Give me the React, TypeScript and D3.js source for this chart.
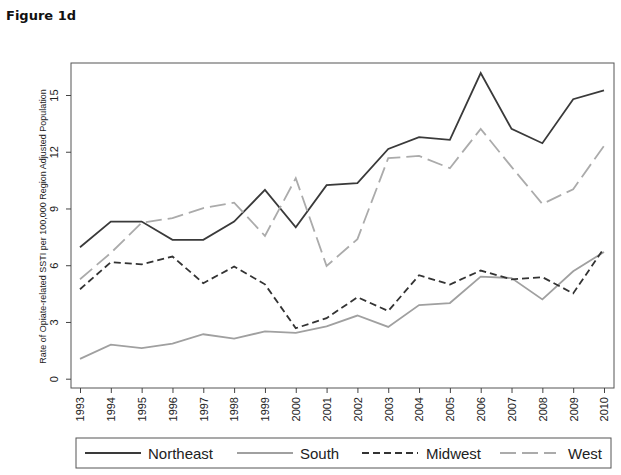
import React, { useEffect, useRef } from 'react';
import * as d3 from 'd3';

const years = [1993, 1994, 1995, 1996, 1997, 1998, 1999, 2000, 2001, 2002, 2003, 2004, 2005, 2006, 2007, 2008, 2009, 2010];
const northeast = [6.95, 8.31, 8.31, 7.34, 7.34, 8.31, 9.98, 8.01, 10.23, 10.34, 12.15, 12.77, 12.63, 16.16, 13.21, 12.45, 14.78, 15.24];
const south = [1.05, 1.8, 1.62, 1.85, 2.35, 2.12, 2.5, 2.42, 2.77, 3.34, 2.74, 3.89, 4.0, 5.4, 5.32, 4.19, 5.68, 6.7];
const midwest = [4.73, 6.16, 6.05, 6.46, 5.05, 5.93, 4.99, 2.67, 3.2, 4.31, 3.58, 5.47, 4.98, 5.72, 5.25, 5.37, 4.51, 6.9];
const west = [5.26, 6.65, 8.25, 8.49, 9.02, 9.31, 7.55, 10.6, 5.96, 7.38, 11.66, 11.78, 11.13, 13.21, 11.2, 9.24, 10.02, 12.31];
const yTicks = [0, 3, 6, 9, 12, 15];

const seriesList = [
  { name: 'Northeast', values: northeast, color: '#3a3a3a', dash: null as string | null },
  { name: 'South', values: south, color: '#a0a0a0', dash: null as string | null },
  { name: 'Midwest', values: midwest, color: '#333333', dash: '7,4' },
  { name: 'West', values: west, color: '#ababab', dash: '16,6' },
];

const W = 621;
const H = 475;

const App: React.FC = () => {
  const svgRef = useRef<SVGSVGElement>(null);

  useEffect(() => {
    if (!svgRef.current) return;
    const svg = d3.select(svgRef.current);
    svg.selectAll('*').remove();

    const font = "'Liberation Sans', Arial, sans-serif";

    // title
    svg.append('text')
      .attr('x', 6)
      .attr('y', 20)
      .attr('font-family', 'DejaVu Sans, sans-serif')
      .attr('font-weight', 'bold')
      .attr('font-size', 13)
      .attr('fill', '#111')
      .text('Figure 1d');

    const frame = { left: 71, right: 614, top: 63, bottom: 388 };

    const x = d3.scalePoint<number>()
      .domain(years)
      .range([80, 604]);

    const y = d3.scaleLinear()
      .domain([0, 15])
      .range([378.7, 95]);

    // frame
    svg.append('rect')
      .attr('x', frame.left)
      .attr('y', frame.top)
      .attr('width', frame.right - frame.left)
      .attr('height', frame.bottom - frame.top)
      .attr('fill', 'none')
      .attr('stroke', '#555')
      .attr('stroke-width', 1);

    // y axis
    const yAxis = svg.append('g').attr('transform', `translate(${frame.left},0)`);
    yAxis.call(d3.axisLeft(y).tickValues(yTicks).tickSize(5).tickPadding(3));
    yAxis.select('.domain').remove();
    yAxis.selectAll('.tick line').attr('stroke', '#444');
    yAxis.selectAll('.tick text')
      .attr('font-family', font)
      .attr('font-size', 11)
      .attr('fill', '#222')
      .attr('text-anchor', 'middle')
      .attr('transform', 'rotate(-90)')
      .attr('x', 0)
      .attr('y', -13)
      .attr('dy', '0');

    svg.append('text')
      .attr('transform', `translate(46,${(88 + 365) / 2}) rotate(-90)`)
      .attr('text-anchor', 'middle')
      .attr('font-family', font)
      .attr('font-size', 9)
      .attr('fill', '#222')
      .text('Rate of Opiate-related SSTI per 100,000 Region Adjusted Population');

    // x axis
    const xAxis = svg.append('g').attr('transform', `translate(0,${frame.bottom})`);
    xAxis.call(d3.axisBottom(x).tickSize(5).tickPadding(3));
    xAxis.select('.domain').remove();
    xAxis.selectAll('.tick line').attr('stroke', '#444');
    xAxis.selectAll('.tick text')
      .attr('font-family', font)
      .attr('font-size', 11)
      .attr('fill', '#222')
      .attr('text-anchor', 'end')
      .attr('transform', 'rotate(-90)')
      .attr('x', -9)
      .attr('y', 0)
      .attr('dy', '0.35em');

    // lines
    const line = d3.line<number>()
      .x((_, i) => x(years[i]) as number)
      .y(d => y(d));

    seriesList.forEach(s => {
      const p = svg.append('path')
        .datum(s.values)
        .attr('fill', 'none')
        .attr('stroke', s.color)
        .attr('stroke-width', 1.8)
        .attr('stroke-linejoin', 'miter')
        .attr('d', line);
      if (s.dash) p.attr('stroke-dasharray', s.dash);
    });

    // legend
    const lg = svg.append('g');
    lg.append('rect')
      .attr('x', 76)
      .attr('y', 438)
      .attr('width', 535)
      .attr('height', 30)
      .attr('fill', 'none')
      .attr('stroke', '#555')
      .attr('stroke-width', 1);

    const legendPos = [
      { lx: 85, tx: 148 },
      { lx: 237, tx: 300 },
      { lx: 362, tx: 426 },
      { lx: 500, tx: 568 },
    ];
    seriesList.forEach((s, i) => {
      const pos = legendPos[i];
      const l = lg.append('line')
        .attr('x1', pos.lx)
        .attr('x2', pos.lx + 56)
        .attr('y1', 453)
        .attr('y2', 453)
        .attr('stroke', s.color)
        .attr('stroke-width', 1.8);
      if (s.dash) l.attr('stroke-dasharray', s.dash);
      lg.append('text')
        .attr('x', pos.tx)
        .attr('y', 458.5)
        .attr('font-family', font)
        .attr('font-size', 15)
        .attr('fill', '#222')
        .text(s.name);
    });
  }, []);

  return (
    <svg
      ref={svgRef}
      width={W}
      height={H}
      style={{ position: 'absolute', left: 0, top: 0, background: '#fff' }}
    />
  );
};

export default App;
